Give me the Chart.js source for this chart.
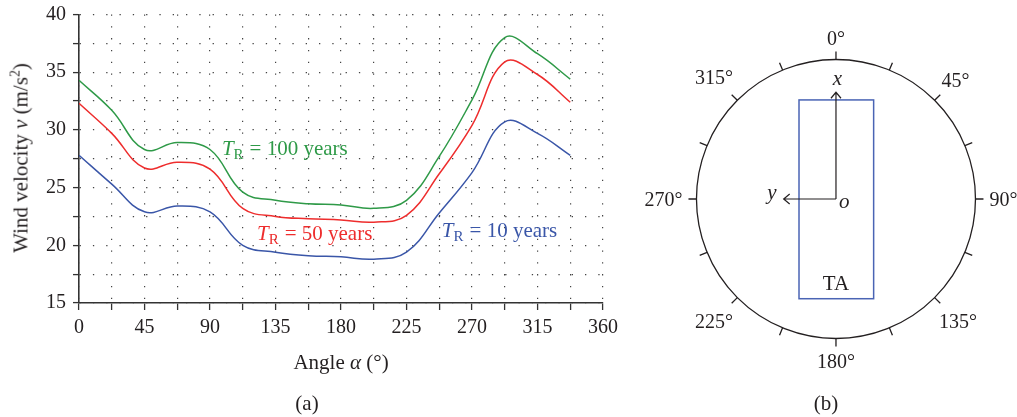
<!DOCTYPE html>
<html>
<head>
<meta charset="utf-8">
<script src="https://cdn.jsdelivr.net/npm/chart.js@4.4.1/dist/chart.umd.min.js"></script>
<style>
  body { margin: 0; background: #fff; }
  #wrap { position: relative; width: 1017px; height: 417px; font-family: 'Liberation Serif', serif; color: #231f20; }
  canvas { position: absolute; top: 0; }
  .txt { position: absolute; font-size: 21px; white-space: nowrap; line-height: 1; transform: translate(-50%, -50%); }
  #yTitle { transform: translate(-50%, -50%) rotate(-90deg); }
  sup { font-size: 0.65em; vertical-align: 0.6em; line-height: 0; }
</style>
</head>
<body>
<div id="wrap">
  <canvas id="velocityChart" width="630" height="417" style="left:0"></canvas>
  <canvas id="compassChart" width="377" height="417" style="left:640px"></canvas>
  <div class="txt" id="yTitle" style="left:21px; top:158px">Wind velocity <i>v</i> (m/s<sup>2</sup>)</div>
  <div class="txt" style="left:341px; top:362px">Angle <i>α</i> (°)</div>
  <div class="txt" style="left:307px; top:403px">(a)</div>
  <div class="txt" style="left:826px; top:403px">(b)</div>
</div>
<script>
// Wind direction angles (degrees)
const angles = [0, 22.5, 45, 67.5, 90, 112.5, 135, 157.5, 180, 202.5, 225, 247.5, 270, 292.5, 315, 337.5];

// Wind velocity for each return period
const velocity100 = [34.3, 31.7, 28.3, 28.9, 28.3, 24.6, 23.9, 23.6, 23.5, 23.2, 23.9, 27.7, 32.6, 38.0, 36.6, 34.4];
const velocity50  = [32.3, 29.7, 26.7, 27.2, 26.6, 23.2, 22.5, 22.3, 22.2, 22.0, 22.6, 26.2, 30.4, 35.9, 34.8, 32.4];
const velocity10  = [27.8, 25.3, 22.9, 23.4, 22.9, 20.0, 19.4, 19.1, 19.0, 18.8, 19.4, 22.8, 26.3, 30.7, 29.7, 27.8];

const seriesNames = ['100 years', '50 years', '10 years'];
const seriesColors = ['#2f9a48', '#ee2d2d', '#3a56a8'];

// where the T_R labels sit, in data units
const labelAngles = [98.2, 122.3, 249.3];
const labelValues = [27.83, 20.46, 20.72];

// compass labels of panel (b)
const compassLabels = [0, 45, 90, 135, 180, 225, 270, 315];

const serif = "'Liberation Serif', serif";

function toPoints(values) {
    return angles.map((a, i) => ({ x: a, y: values[i] }));
}

// Draws the T_R = ... labels next to the curves
const seriesLabelPlugin = {
    id: 'seriesLabels',
    afterDatasetsDraw(chart) {
        const { ctx, scales: { x, y } } = chart;
        ctx.save();
        ctx.textAlign = 'left';
        ctx.textBaseline = 'alphabetic';
        seriesNames.forEach((name, i) => {
            let px = x.getPixelForValue(labelAngles[i]);
            const py = y.getPixelForValue(labelValues[i]);
            ctx.fillStyle = seriesColors[i];
            ctx.font = 'italic 21px ' + serif;
            ctx.fillText('T', px, py);
            px += ctx.measureText('T').width;
            ctx.font = '15px ' + serif;
            ctx.fillText('R', px, py + 4);
            px += ctx.measureText('R').width + 2;
            ctx.font = '21px ' + serif;
            ctx.fillText('= ' + name, px + 4, py);
        });
        ctx.restore();
    }
};

const datasets = [velocity100, velocity50, velocity10].map((vals, i) => ({
    label: 'T_R = ' + seriesNames[i],
    data: toPoints(vals),
    borderColor: seriesColors[i],
    borderWidth: 1.5,
    pointRadius: 0,
    tension: 0.4,
    fill: false
}));

const tickFont = { family: serif, size: 20 };

new Chart(document.getElementById('velocityChart').getContext('2d'), {
    type: 'line',
    data: { datasets: datasets },
    options: {
        responsive: false,
        animation: false,
        layout: { padding: { top: 14.5, right: 27, bottom: 0, left: 0 } },
        plugins: { legend: { display: false }, tooltip: { enabled: false } },
        scales: {
            x: {
                type: 'linear',
                min: 0,
                max: 360,
                afterFit(scale) {
                    scale.height = 114;
                    scale.paddingLeft = 0;
                    scale.paddingRight = 0;
                },
                ticks: {
                    stepSize: 22.5,
                    autoSkip: false,
                    maxRotation: 0,
                    padding: 6,
                    color: '#231f20',
                    font: tickFont,
                    callback: v => (v % 45 === 0 ? String(v) : '')
                },
                grid: { color: '#444', lineWidth: 1.2, tickLength: 7, tickColor: '#333', tickWidth: 1.3 },
                border: { color: '#333', width: 1.6, dash: [1.3, 10.5] }
            },
            y: {
                min: 15,
                max: 40,
                afterFit(scale) {
                    scale.width = 79;
                    scale.paddingTop = 0;
                    scale.paddingBottom = 0;
                },
                ticks: {
                    stepSize: 2.5,
                    autoSkip: false,
                    padding: 7,
                    color: '#231f20',
                    font: tickFont,
                    callback: v => (v % 5 === 0 ? String(v) : '')
                },
                grid: { color: '#444', lineWidth: 1.2, tickLength: 6, tickColor: '#333', tickWidth: 1.3 },
                border: { color: '#333', width: 1.6, dash: [1.3, 12] }
            }
        }
    },
    plugins: [seriesLabelPlugin]
});

// Panel (b): the compass and the TA plan, drawn in the chart's own units (circle radius = 1)
const compassPlugin = {
    id: 'compass',
    afterDraw(chart) {
        const { ctx, scales: { x, y } } = chart;
        const px = v => x.getPixelForValue(v);
        const py = v => y.getPixelForValue(v);
        const cx = px(0), cy = py(0), r = px(1) - cx;

        ctx.save();
        ctx.strokeStyle = '#231f20';
        ctx.lineWidth = 1.3;
        ctx.beginPath();
        ctx.arc(cx, cy, r, 0, Math.PI * 2);
        ctx.stroke();

        // ticks every 22.5 degrees, pointing outward
        ctx.beginPath();
        for (let a = 0; a < 360; a += 22.5) {
            const t = a * Math.PI / 180;
            const dx = Math.sin(t), dy = -Math.cos(t);
            ctx.moveTo(cx + dx * r, cy + dy * r);
            ctx.lineTo(cx + dx * (r + 8), cy + dy * (r + 8));
        }
        ctx.stroke();

        // degree labels
        ctx.fillStyle = '#231f20';
        ctx.font = '20px ' + serif;
        ctx.textAlign = 'center';
        ctx.textBaseline = 'middle';
        compassLabels.forEach(a => {
            const t = a * Math.PI / 180;
            const dx = Math.sin(t), dy = -Math.cos(t);
            const txt = a + '°';
            const w = ctx.measureText(txt).width;
            const half = Math.abs(dx) * w / 2 + Math.abs(dy) * 8;
            const d = r + 14 + half;
            ctx.fillText(txt, cx + dx * d, cy + dy * d + 2);
        });

        // TA rectangle
        ctx.strokeStyle = '#4a64b4';
        ctx.lineWidth = 1.5;
        ctx.strokeRect(px(-0.265), py(0.71), px(0.27) - px(-0.265), py(-0.715) - py(0.71));

        // local axes with arrow heads
        ctx.strokeStyle = '#231f20';
        ctx.lineWidth = 1.2;
        const ox = px(0), oy = py(0);
        const xTip = py(0.765), yTip = px(-0.375);
        ctx.beginPath();
        ctx.moveTo(ox, oy); ctx.lineTo(ox, xTip);
        ctx.moveTo(ox - 5, xTip + 6); ctx.lineTo(ox, xTip); ctx.lineTo(ox + 5, xTip + 6);
        ctx.moveTo(ox, oy); ctx.lineTo(yTip, oy);
        ctx.moveTo(yTip + 6, oy - 5); ctx.lineTo(yTip, oy); ctx.lineTo(yTip + 6, oy + 5);
        ctx.stroke();

        ctx.font = 'italic 21px ' + serif;
        ctx.fillText('x', px(0.01), py(0.86));
        ctx.fillText('y', px(-0.46), py(0.04));
        ctx.fillText('o', px(0.06), py(-0.025));
        ctx.font = '21px ' + serif;
        ctx.fillText('TA', px(0), py(-0.61));
        ctx.restore();
    }
};

new Chart(document.getElementById('compassChart').getContext('2d'), {
    type: 'scatter',
    data: { datasets: [] },
    options: {
        responsive: false,
        animation: false,
        layout: { padding: { top: 24.6, right: 6.65, bottom: 43.65, left: 21.6 } },
        plugins: { legend: { display: false }, tooltip: { enabled: false } },
        scales: {
            x: { type: 'linear', min: -1.25, max: 1.25, display: false },
            y: { type: 'linear', min: -1.25, max: 1.25, display: false }
        }
    },
    plugins: [compassPlugin]
});
</script>
</body>
</html>
